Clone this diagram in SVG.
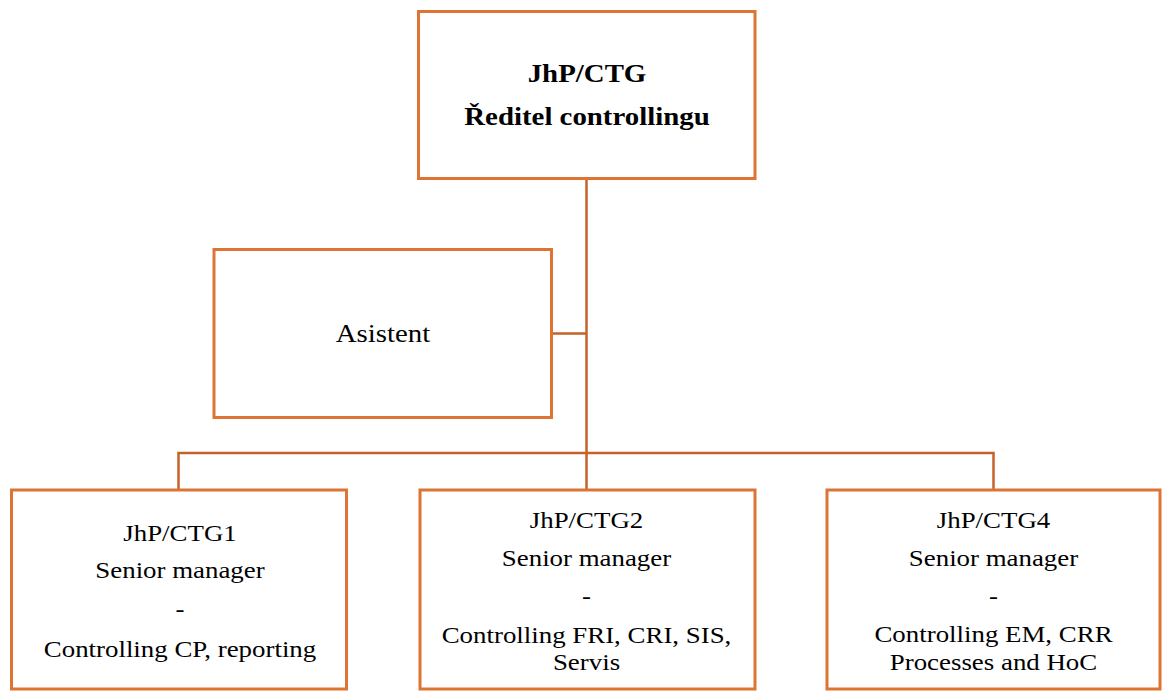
<svg xmlns="http://www.w3.org/2000/svg" width="1169" height="693" viewBox="0 0 1169 693">
<style>
.box{fill:#fff;stroke:#DD7434;stroke-width:3}
.conn{fill:none;stroke:#C5622A;stroke-width:2.5}
text{fill:#000;text-anchor:middle}
.t{font-size:24px}
.b{font-size:26px;font-weight:bold}
.a{font-size:26px}
</style>
<rect width="1169" height="693" fill="#fff"/>
<g id="connectors">
<path class="conn" d="M586.5 178 V490"/>
<path class="conn" d="M551.5 333.5 H586.5"/>
<path class="conn" d="M178.5 490 V453 H993.5 V490"/>
</g>
<g font-family="Liberation Serif">
<g id="director">
<rect class="box" x="418.5" y="11.5" width="336.5" height="167"/>
<g transform="translate(587,0) scale(1.11,1)">
<text class="b" x="0" y="82">JhP/CTG</text>
<text class="b" x="0" y="125">Ředitel controllingu</text>
</g>
</g>
<g id="asistent">
<rect class="box" x="214" y="249.5" width="337.5" height="168"/>
<g transform="translate(383,0) scale(1.11,1)">
<text class="a" x="0" y="342.5">Asistent</text>
</g>
</g>
<g id="ctg1">
<rect class="box" x="11.5" y="490" width="335" height="199"/>
<g transform="translate(180,0) scale(1.12,1)">
<text class="t" x="0" y="541.5">JhP/CTG1</text>
<text class="t" x="0" y="578">Senior manager</text>
<text class="t" x="0" y="617">-</text>
<text class="t" x="0" y="657">Controlling CP, reporting</text>
</g>
</g>
<g id="ctg2">
<rect class="box" x="420" y="490" width="335" height="199"/>
<g transform="translate(586.5,0) scale(1.12,1)">
<text class="t" x="0" y="528">JhP/CTG2</text>
<text class="t" x="0" y="566">Senior manager</text>
<text class="t" x="0" y="604">-</text>
<text class="t" x="0" y="643">Controlling FRI, CRI, SIS,</text>
<text class="t" x="0" y="670">Servis</text>
</g>
</g>
<g id="ctg4">
<rect class="box" x="827" y="490" width="333" height="199"/>
<g transform="translate(993.5,0) scale(1.12,1)">
<text class="t" x="0" y="528">JhP/CTG4</text>
<text class="t" x="0" y="566">Senior manager</text>
<text class="t" x="0" y="604">-</text>
<text class="t" x="0" y="642">Controlling EM, CRR</text>
<text class="t" x="0" y="670">Processes and HoC</text>
</g>
</g>
</g>
</svg>
